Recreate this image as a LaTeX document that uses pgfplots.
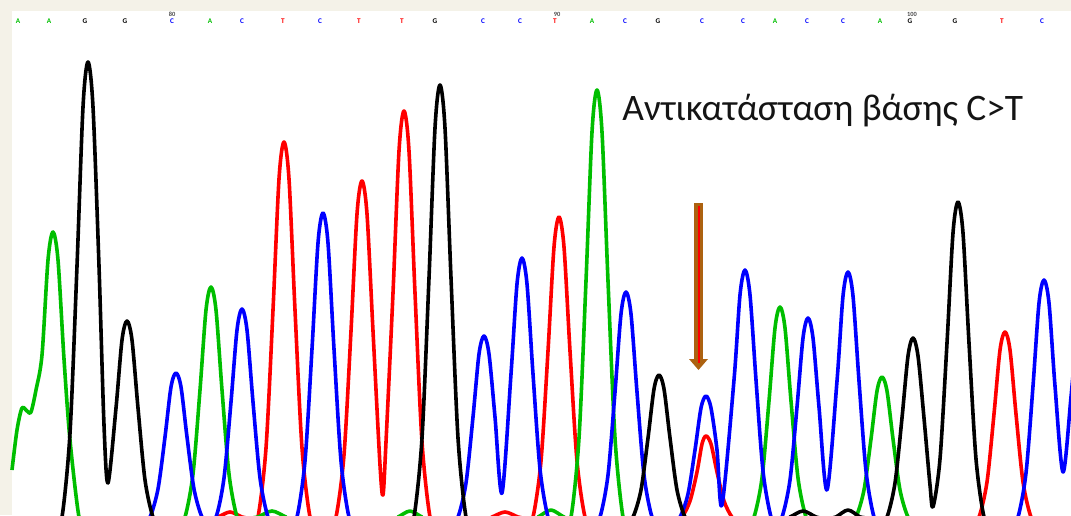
\documentclass[border=0pt]{standalone}
\usepackage{fontspec}
\setmainfont{Carlito}
\usepackage{pgfplots}
\pgfplotsset{compat=1.18}
\definecolor{bgbeige}{RGB}{244,242,232}
\definecolor{trG}{RGB}{0,190,0}
\definecolor{trB}{RGB}{0,0,255}
\definecolor{trR}{RGB}{255,0,0}
\definecolor{arrowbrown}{RGB}{172,98,16}
\definecolor{txt}{RGB}{20,20,20}
\newcommand{\bl}[3]{\node[text=#3,font=\fontsize{3.6pt}{4pt}\selectfont\bfseries] at (axis cs:#1,494) {#2};}
\begin{document}
\begin{tikzpicture}
\begin{axis}[
  scale only axis, width=535.5pt, height=257.5pt,
  xmin=0, xmax=1071, ymin=0, ymax=515,
  axis lines=none, clip=true,
  every axis plot/.append style={line width=1.8pt, smooth, tension=0.5, mark=none, line join=round},
]
% background
\fill[bgbeige] (axis cs:0,0) rectangle (axis cs:12,515);
\fill[bgbeige] (axis cs:0,504) rectangle (axis cs:1071,515);

% T (red)
\addplot[trR] coordinates {
(12,-3)(212,-3)(218,-2)(230,3)(242,-2)(248,-3)
(252,-3)(258,-2)(266,67)(273,205)(279,336)(284,373)(289,336)(295,205)(302,67)(310,-2)(316,-3)
(330,-3)(336,-2)(344,60)(351,184)(357,301)(362,334)(367,301)(373,184)(380,50)(383,20)
(386,73)(393,222)(399,364)(404,404)(409,364)(415,222)(422,73)(430,-2)(436,-3)
(486,-3)(492,-2)(505,3)(518,-2)(524,-3)
(527,-3)(533,-2)(541,54)(548,164)(554,268)(559,298)(564,268)(570,164)(577,54)(585,-2)(591,-3)
(676,-3)(682,-2)(690,14)(697,43)(702,71)(706,79)(711,71)(717,43)(724,14)(732,-2)(738,-3)
(973,-3)(979,-2)(987,33)(994,101)(1000,165)(1005,183)(1010,165)(1016,101)(1023,33)(1031,-2)(1037,-3)
(1071,-3)};

% A (green)
\addplot[trG] coordinates {
(12,45)(17,85)(22,107)(27,104)(31,103)(36,125)
(42,160)(48,255)(53,283)(58,255)(64,156)(70,75)(79,-2)(85,-3)
(179,-3)(185,-2)(193,41)(200,125)(206,205)(211,228)(216,205)(222,125)(229,41)(237,-2)(243,-3)
(252,-3)(258,-2)(272,4)(286,-2)(292,-3)
(392,-3)(398,-2)(410,4)(422,-2)(428,-3)
(532,-3)(538,-2)(551,5)(564,-2)
(571,-2)(579,77)(586,234)(592,383)(597,425)(602,383)(608,234)(615,77)(623,-2)(629,-3)
(748,-3)(754,-2)(762,37)(769,114)(775,187)(780,208)(785,187)(791,114)(798,37)(806,-2)(812,-3)
(850,-3)(856,-2)(864,25)(871,76)(877,124)(882,138)(887,124)(893,76)(900,25)(908,-2)(914,-3)
(1071,-3)};

% C (blue)
\addplot[trB] coordinates {
(12,-3)
(144,-3)(150,-2)(158,26)(165,78)(171,128)(176,142)(181,128)(187,78)(194,26)(202,-2)(208,-3)
(216,-2)(224,37)(231,113)(237,185)(242,206)(247,185)(253,113)(260,37)(268,-2)(274,-3)
(291,-3)(297,-2)(305,54)(312,166)(318,272)(323,302)(328,272)(334,166)(341,54)(349,-2)(355,-3)
(452,-3)(458,-2)(466,32)(473,98)(479,161)(484,179)(489,161)(495,98)(502,22)
(511,141)(517,231)(522,257)(527,231)(533,141)(540,46)(548,-2)(554,-3)
(594,-3)(600,-2)(608,40)(615,123)(621,201)(626,223)(631,201)(637,123)(644,40)(652,-2)(658,-3)
(674,-3)(680,-2)(688,21)(695,65)(701,107)(706,119)(711,107)(717,65)(722,10)
(734,135)(740,220)(745,245)(750,220)(756,135)(763,44)(771,-2)(776,-3)
(782,-2)(790,35)(797,108)(803,177)(808,197)(813,177)(819,108)(827,25)
(837,134)(843,219)(848,243)(853,219)(859,134)(866,44)(874,-2)(880,-3)
(1012,-3)(1018,-2)(1026,42)(1033,129)(1039,212)(1044,235)(1049,212)(1055,129)(1063,43)
(1071,118)(1080,220)};

% G (black)
\addplot[black] coordinates {
(12,-3)
(56,-3)(62,-2)(70,82)(77,249)(83,408)(88,453)(93,408)(99,249)(104,90)(108,32)
(116,107)(122,175)(127,194)(132,175)(138,107)(145,35)(153,-2)(159,-3)
(408,-3)(414,-2)(422,77)(429,237)(435,387)(440,430)(445,387)(451,237)(458,77)(466,-2)(472,-3)
(627,-3)(633,-2)(641,25)(648,77)(654,126)(659,140)(664,126)(670,77)(677,25)(685,-2)(691,-3)
(784,-3)(790,-2)(803,4)(816,-2)(822,-3)(830,-3)(836,-2)(848,5)(860,-2)(866,-3)
(881,-3)(887,-2)(895,32)(902,97)(908,159)(913,177)(918,159)(924,97)(930,30)(933,8)
(940,56)(947,172)(953,282)(958,313)(963,282)(969,172)(976,56)(984,-2)(990,-3)
(1071,-3)};

% base calls
\bl{18}{A}{trG}\bl{49}{A}{trG}\bl{85}{G}{black}\bl{125}{G}{black}
\bl{172}{C}{trB}\bl{210}{A}{trG}\bl{242}{C}{trB}\bl{283}{T}{trR}
\bl{320}{C}{trB}\bl{359}{T}{trR}\bl{402}{T}{trR}\bl{435}{G}{black}
\bl{483}{C}{trB}\bl{520}{C}{trB}\bl{555}{T}{trR}\bl{592}{A}{trG}
\bl{625}{C}{trB}\bl{658}{G}{black}\bl{702}{C}{trB}\bl{743}{C}{trB}
\bl{775}{A}{trG}\bl{807}{C}{trB}\bl{843}{C}{trB}\bl{880}{A}{trG}
\bl{910}{G}{black}\bl{955}{G}{black}\bl{1002}{T}{trR}\bl{1042}{C}{trB}
\node[text=black!70,font=\fontsize{3.2pt}{4pt}\selectfont\bfseries] at (axis cs:172,501) {80};
\node[text=black!70,font=\fontsize{3.2pt}{4pt}\selectfont\bfseries] at (axis cs:557,501) {90};
\node[text=black!70,font=\fontsize{3.2pt}{4pt}\selectfont\bfseries] at (axis cs:912,501) {100};

% arrow
\fill[arrowbrown] (axis cs:694,312) rectangle (axis cs:703,156);
\fill[arrowbrown] (axis cs:689,156) -- (axis cs:708,156) -- (axis cs:698.5,145) -- cycle;
\draw[trR, line width=1pt] (axis cs:698.5,309) -- (axis cs:698.5,152);

% annotation
\node[anchor=base west, inner sep=0pt, text=txt, font=\fontsize{18.7pt}{22pt}\selectfont] at (axis cs:622,394) {Αντικατάσταση βάσης C>T};
\end{axis}
\end{tikzpicture}
\end{document}
